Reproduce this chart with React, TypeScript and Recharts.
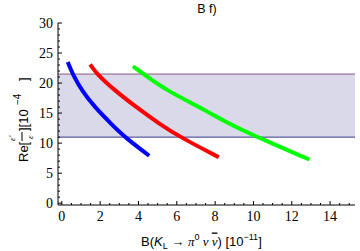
import React from "react";
import { ComposedChart, Line, XAxis, YAxis, ReferenceArea, ReferenceLine } from "recharts";

const blueX = [0.31, 0.56, 1.05, 1.74, 2.61, 3.28, 4.56];
const blueY = [23.5, 21.5, 18.7, 15.9, 13.1, 11.0, 7.9];
const redX = [1.48, 1.83, 2.79, 3.92, 5.14, 6.18, 8.19];
const redY = [23.1, 21.5, 18.7, 15.9, 13.1, 11.0, 7.65];
const greenX = [3.71, 4.27, 5.5, 7.26, 8.78, 10.2, 12.92];
const greenY = [22.8, 21.5, 18.7, 15.9, 13.1, 11.0, 7.27];

const bandLow = 11.0;
const bandHigh = 21.5;

const xMajorTicks = [0, 2, 4, 6, 8, 10, 12, 14];
const xAllTicks = [0, 0.5, 1, 1.5, 2, 2.5, 3, 3.5, 4, 4.5, 5, 5.5, 6, 6.5, 7, 7.5, 8, 8.5, 9, 9.5, 10, 10.5, 11, 11.5, 12, 12.5, 13, 13.5, 14, 14.5, 15];
const yMajorTicks = [0, 5, 10, 15, 20, 25, 30];
const yAllTicks = [0, 1, 2, 3, 4, 5, 6, 7, 8, 9, 10, 11, 12, 13, 14, 15, 16, 17, 18, 19, 20, 21, 22, 23, 24, 25, 26, 27, 28, 29, 30];

const toPts = (xs: number[], ys: number[]) => xs.map((x, i) => ({ x, y: ys[i] }));
const blueData = toPts(blueX, blueY);
const redData = toPts(redX, redY);
const greenData = toPts(greenX, greenY);

const serif = "'Liberation Serif', 'Times New Roman', serif";
const sans = "'Liberation Sans', Arial, sans-serif";

const XBottomTick = (p: any) => {
  const v = p.payload.value;
  const major = xMajorTicks.includes(v);
  return (
    <g>
      <line x1={p.x} x2={p.x} y1={p.y} y2={p.y - (major ? 4 : 2)} stroke="#000" strokeWidth={1} />
      {major && (
        <text x={p.x} y={p.y + 16} textAnchor="middle" fontFamily={serif} fontSize={14} fill="#000">
          {v}
        </text>
      )}
    </g>
  );
};
const XTopTick = (p: any) => {
  const v = p.payload.value;
  const major = xMajorTicks.includes(v);
  return <line x1={p.x} x2={p.x} y1={p.y} y2={p.y + (major ? 4 : 2)} stroke="#000" strokeWidth={1} />;
};
const YLeftTick = (p: any) => {
  const v = p.payload.value;
  const major = yMajorTicks.includes(v);
  return (
    <g>
      <line x1={p.x} x2={p.x + (major ? 4 : 2)} y1={p.y} y2={p.y} stroke="#000" strokeWidth={1} />
      {major && (
        <text x={p.x - 5} y={p.y + 5} textAnchor="end" fontFamily={serif} fontSize={14} fill="#000">
          {v}
        </text>
      )}
    </g>
  );
};
const YRightTick = (p: any) => {
  const v = p.payload.value;
  const major = yMajorTicks.includes(v);
  return <line x1={p.x} x2={p.x - (major ? 4 : 2)} y1={p.y} y2={p.y} stroke="#000" strokeWidth={1} />;
};

const XLabelAndTitle = () => (
  <g>
    <text x={207} y={13} textAnchor="middle" fontFamily={sans} fontSize={12.5} fill="#000">
      B f)
    </text>
    <text x={141} y={245.5} fontFamily={sans} fontSize={13} fill="#000">
      B(
      <tspan fontStyle="italic">K</tspan>
      <tspan fontSize={9} dy={3}>L</tspan>
      <tspan dy={-3}> → </tspan>
      <tspan fontFamily={serif} fontStyle="italic">π</tspan>
      <tspan fontSize={9} dy={-6}>0</tspan>
      <tspan dy={6} fontFamily={serif} fontStyle="italic">{"  ν  "}</tspan>
      <tspan fontFamily={serif} fontStyle="italic" textDecoration="overline" style={{ textDecoration: "overline" }}>ν</tspan>
      <tspan>) [10</tspan>
      <tspan fontSize={9} dy={-6}>−11</tspan>
      <tspan dy={6}>]</tspan>
    </text>
  </g>
);

const YLabel = () => (
  <g transform="translate(28,162) rotate(-90)" fontFamily={sans} fill="#000">
    <text x={0} y={0} fontSize={13}>Re[</text>
    <line x1={21} x2={30} y1={-6} y2={-6} stroke="#000" strokeWidth={1} />
    <text x={21} y={-13} fontSize={9} fontFamily={serif} fontStyle="italic">ε'</text>
    <text x={23} y={5} fontSize={9} fontFamily={serif} fontStyle="italic">ε</text>
    <text x={31} y={0} fontSize={13}>][10</text>
    <text x={57} y={-7} fontSize={10}>−4</text>
    <text x={81} y={0} fontSize={13}>]</text>
  </g>
);

export default function App() {
  return (
    <div style={{ position: "absolute", left: 0, top: 0 }}>
      <ComposedChart width={360} height={251} margin={{ top: 23, right: 5, bottom: 0, left: 0 }}>
        <XAxis
          xAxisId="b"
          dataKey="x"
          type="number"
          orientation="bottom"
          domain={[-0.2, 15.3]}
          allowDataOverflow
          ticks={xAllTicks}
          interval={0}
          height={46}
          tickSize={0}
          tickMargin={0}
          tickLine={false}
          axisLine={{ stroke: "#000" }}
          tick={<XBottomTick />}
          label={{ content: () => <XLabelAndTitle /> }}
        />
        <XAxis
          xAxisId="t"
          dataKey="x"
          type="number"
          orientation="top"
          domain={[-0.2, 15.3]}
          allowDataOverflow
          ticks={xAllTicks}
          interval={0}
          height={0}
          tickSize={0}
          tickMargin={0}
          tickLine={false}
          axisLine={{ stroke: "#000" }}
          tick={<XTopTick />}
        />
        <YAxis
          yAxisId="l"
          type="number"
          orientation="left"
          domain={[-0.3, 30]}
          allowDataOverflow
          ticks={yAllTicks}
          interval={0}
          width={58}
          tickSize={0}
          tickMargin={0}
          tickLine={false}
          axisLine={{ stroke: "#000" }}
          tick={<YLeftTick />}
          label={{ content: () => <YLabel /> }}
        />
        <YAxis
          yAxisId="r"
          type="number"
          orientation="right"
          domain={[-0.3, 30]}
          allowDataOverflow
          ticks={yAllTicks}
          interval={0}
          width={0}
          tickSize={0}
          tickMargin={0}
          tickLine={false}
          axisLine={{ stroke: "#000" }}
          tick={<YRightTick />}
        />
        <ReferenceArea xAxisId="b" yAxisId="l" y1={bandLow} y2={bandHigh} fill="#d9d9ea" fillOpacity={1} stroke="none" />
        <ReferenceLine xAxisId="b" yAxisId="l" y={bandHigh} stroke="#8c5a86" strokeWidth={1} />
        <ReferenceLine xAxisId="b" yAxisId="l" y={bandLow} stroke="#3a3a92" strokeWidth={1} />
        <Line xAxisId="b" yAxisId="l" data={blueData} dataKey="y" type="basis" stroke="#0000ff" strokeWidth={4} dot={false} isAnimationActive={false} />
        <Line xAxisId="b" yAxisId="l" data={redData} dataKey="y" type="basis" stroke="#ff0000" strokeWidth={4} dot={false} isAnimationActive={false} />
        <Line xAxisId="b" yAxisId="l" data={greenData} dataKey="y" type="basis" stroke="#00ff00" strokeWidth={4} dot={false} isAnimationActive={false} />
      </ComposedChart>
    </div>
  );
}
